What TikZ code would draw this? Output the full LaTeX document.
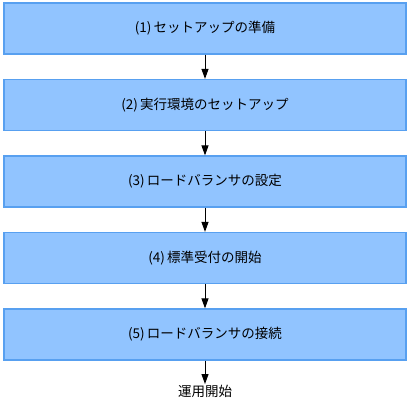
\documentclass[tikz,border=0pt]{standalone}
\usepackage{fontspec}
\setmainfont{Noto Sans CJK JP}
\usetikzlibrary{arrows.meta}
\definecolor{boxfill}{RGB}{145,196,255}
\definecolor{boxline}{RGB}{88,160,240}
\begin{document}
\begin{tikzpicture}[x=1pt,y=-1pt,
  stepbox/.style={draw=boxline,line width=1.2pt,fill=boxfill,minimum width=402pt,minimum height=51pt,inner sep=0pt,font=\fontsize{13.5}{15}\selectfont},
  flow/.style={-{Triangle[length=10pt,width=7pt]},line width=1pt,black}]
\useasboundingbox (0,0) rectangle (411,414);
\node[stepbox] (s1) at (205,28.5) {(1)\,セットアップの準備};
\node[stepbox] (s2) at (205,105) {(2)\,実行環境のセットアップ};
\node[stepbox] (s3) at (205,181.5) {(3)\,ロードバランサの設定};
\node[stepbox] (s4) at (205,258) {(4)\,標準受付の開始};
\node[stepbox] (s5) at (205,334.5) {(5)\,ロードバランサの接続};
\node[font=\fontsize{13.5}{15}\selectfont,inner sep=1pt,anchor=north] (end) at (205,384) {運用開始};
\draw[flow] (s1) -- (s2);
\draw[flow] (s2) -- (s3);
\draw[flow] (s3) -- (s4);
\draw[flow] (s4) -- (s5);
\draw[flow] (s5) -- (end);
\end{tikzpicture}
\end{document}
